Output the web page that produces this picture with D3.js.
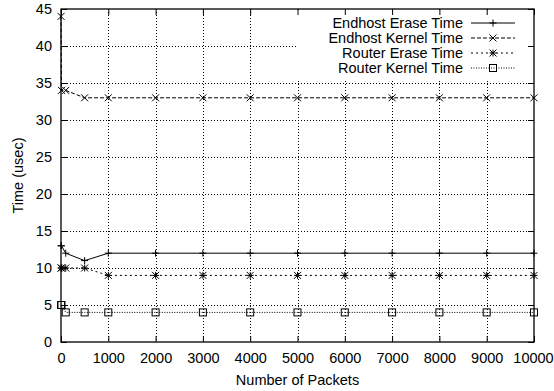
<!DOCTYPE html>
<meta charset="utf-8">
<script src="https://d3js.org/d3.v7.min.js"></script>
<style>
  body { margin: 0; background: #fff; }
  text { font-family: "Liberation Sans", Arial, sans-serif; font-size: 14.5px; fill: #000; }
</style>
<div id="chart"></div>
<script>
// data
const packets = [1, 10, 100, 500, 1000, 2000, 3000, 4000, 5000, 6000, 7000, 8000, 9000, 10000];
const endhostErase  = [13, 13, 12, 11, 12, 12, 12, 12, 12, 12, 12, 12, 12, 12];
const endhostKernel = [44, 34, 34, 33, 33, 33, 33, 33, 33, 33, 33, 33, 33, 33];
const routerErase   = [10, 10, 10, 10, 9, 9, 9, 9, 9, 9, 9, 9, 9, 9];
const routerKernel  = [5, 5, 4, 4, 4, 4, 4, 4, 4, 4, 4, 4, 4, 4];
const xTicks = [0, 1000, 2000, 3000, 4000, 5000, 6000, 7000, 8000, 9000, 10000];
const yTicks = [0, 5, 10, 15, 20, 25, 30, 35, 40, 45];

const series = [
  { name: "Endhost Erase Time",  values: endhostErase,  dash: null,    point: "plus" },
  { name: "Endhost Kernel Time", values: endhostKernel, dash: "4,2",   point: "cross" },
  { name: "Router Erase Time",   values: routerErase,   dash: "2,3",   point: "star" },
  { name: "Router Kernel Time",  values: routerKernel,  dash: "1,1.5", point: "box" }
];

const W = 554, H = 391;
const pL = 61, pR = 534, pT = 9, pB = 342;

const svg = d3.select("#chart").append("svg")
  .attr("width", W).attr("height", H);

const x = d3.scaleLinear().domain([0, 10000]).range([pL, pR]);
const y = d3.scaleLinear().domain([0, 45]).range([pB, pT]);

// grid (dotted)
const grid = svg.append("g").attr("stroke", "#000").attr("stroke-width", 1)
  .attr("stroke-dasharray", "1,2");
grid.selectAll(".gx").data(xTicks.slice(1, -1)).join("line")
  .attr("x1", d => Math.round(x(d)) + 0.5).attr("x2", d => Math.round(x(d)) + 0.5)
  .attr("y1", pT).attr("y2", pB);
grid.selectAll(".gy").data(yTicks.slice(1, -1)).join("line")
  .attr("y1", d => Math.round(y(d)) + 0.5).attr("y2", d => Math.round(y(d)) + 0.5)
  .attr("x1", pL).attr("x2", pR);

// legend background hides grid behind the key
svg.append("rect").attr("x", 296).attr("y", pT + 1)
  .attr("width", pR - 296 - 1).attr("height", 70).attr("fill", "#fff");

// axes with inward ticks on all four sides
const ax = (g, axis) => {
  g.call(axis);
  g.select(".domain").remove();
  g.selectAll("line").attr("stroke", "#000");
  g.selectAll("text").attr("fill", "#000").style("font-size", "14.5px")
    .style("font-family", "'Liberation Sans', Arial, sans-serif");
};
const xAxis = svg.append("g").attr("transform", `translate(0,${pB})`)
  .call(ax, d3.axisBottom(x).tickValues(xTicks).tickSize(-6).tickPadding(11).tickFormat(d3.format("d")));
// last label sits right at the picture edge
xAxis.selectAll(".tick text").filter(d => d === 10000).attr("dx", "-1");
svg.append("g").attr("transform", `translate(0,${pT})`)
  .call(ax, d3.axisTop(x).tickValues(xTicks).tickSize(-6).tickFormat(""));
svg.append("g").attr("transform", `translate(${pL},0)`)
  .call(ax, d3.axisLeft(y).tickValues(yTicks).tickSize(-6).tickPadding(9).tickFormat(d3.format("d")));
svg.append("g").attr("transform", `translate(${pR},0)`)
  .call(ax, d3.axisRight(y).tickValues(yTicks).tickSize(-6).tickFormat(""));

// border
svg.append("rect").attr("x", pL).attr("y", pT)
  .attr("width", pR - pL).attr("height", pB - pT)
  .attr("fill", "none").attr("stroke", "#000").attr("stroke-width", 1.3);

// point shapes
function drawPoint(g, kind, px, py) {
  const s = 3.5;
  const p = g.append("g").attr("stroke", "#000").attr("stroke-width", 1).attr("fill", "none");
  if (kind === "plus" || kind === "star") {
    p.append("line").attr("x1", px - s).attr("x2", px + s).attr("y1", py).attr("y2", py);
    p.append("line").attr("x1", px).attr("x2", px).attr("y1", py - s).attr("y2", py + s);
  }
  if (kind === "cross" || kind === "star") {
    p.append("line").attr("x1", px - s).attr("x2", px + s).attr("y1", py - s).attr("y2", py + s);
    p.append("line").attr("x1", px - s).attr("x2", px + s).attr("y1", py + s).attr("y2", py - s);
  }
  if (kind === "box") {
    p.append("rect").attr("x", px - s).attr("y", py - s).attr("width", 2 * s).attr("height", 2 * s);
  }
}

const line = d3.line().x((d, i) => x(packets[i])).y(d => y(d));
const plot = svg.append("g");
series.forEach(s => {
  plot.append("path").datum(s.values)
    .attr("d", line)
    .attr("fill", "none").attr("stroke", "#000").attr("stroke-width", 1)
    .attr("stroke-dasharray", s.dash);
  s.values.forEach((v, i) => drawPoint(plot, s.point, x(packets[i]), y(v)));
});

// legend
const legend = svg.append("g");
series.forEach((s, i) => {
  const cy = 23 + i * 15;
  legend.append("text").attr("x", 463).attr("y", cy + 5)
    .attr("text-anchor", "end").text(s.name);
  legend.append("line").attr("x1", 471).attr("x2", 515).attr("y1", cy).attr("y2", cy)
    .attr("stroke", "#000").attr("stroke-width", 1).attr("stroke-dasharray", s.dash);
  drawPoint(legend, s.point, 493, cy);
});

// axis titles
svg.append("text").attr("x", (pL + pR) / 2).attr("y", 385)
  .attr("text-anchor", "middle").text("Number of Packets");
svg.append("text").attr("transform", `translate(23,${(pT + pB) / 2}) rotate(-90)`)
  .attr("text-anchor", "middle").text("Time (usec)");
</script>
